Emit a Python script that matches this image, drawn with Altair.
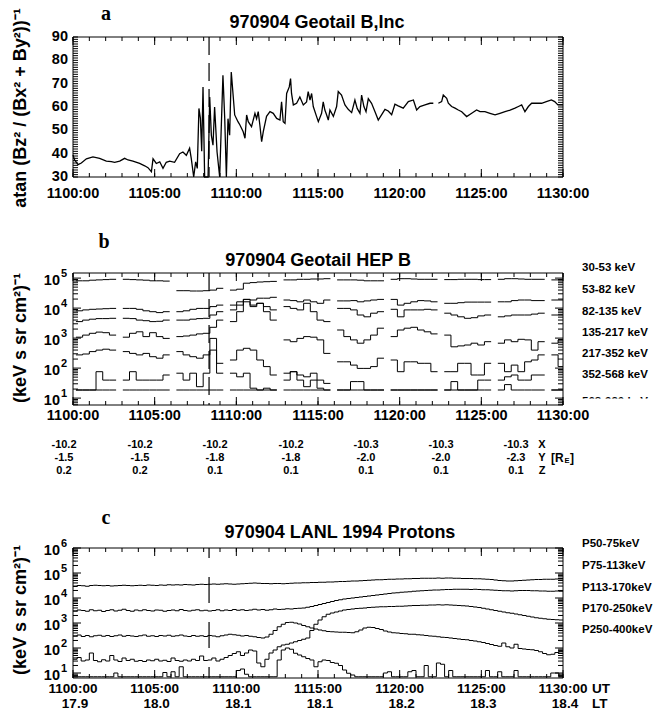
import altair as alt
import pandas as pd

FONT = "Liberation Sans, Arial, Helvetica, sans-serif"
SERIF = "Liberation Serif, Times New Roman, serif"
NARROW = "Liberation Sans Narrow, Liberation Sans, sans-serif"

# ---------------- shared time axis ----------------
tick_minutes = [0, 5, 10, 15, 20, 25, 30]
ut_labels = ["1100:00", "1105:00", "1110:00", "1115:00", "1120:00", "1125:00", "1130:00"]
lt_labels = ["17.9", "18.0", "18.1", "18.1", "18.2", "18.3", "18.4"]
orbit_x = ["-10.2", "-10.2", "-10.2", "-10.2", "-10.3", "-10.3", "-10.3"]
orbit_y = ["-1.5", "-1.5", "-1.8", "-1.8", "-2.0", "-2.0", "-2.3"]
orbit_z = ["0.2", "0.2", "0.1", "0.1", "0.1", "0.1", "0.1"]
event_minute = [8.33]

# ---------------- panel a : Geotail B inclination ----------------
a_minutes = [
    0.00, 0.10, 0.31, 0.51, 0.82, 1.22, 1.63, 2.04, 2.35, 2.55,
    2.86, 3.16, 3.37, 3.67, 4.08, 4.39, 4.59, 4.80, 4.90, 5.10,
    5.31, 5.51, 5.71, 5.92, 6.22, 6.53, 6.73, 6.94, 7.14, 7.24,
    7.39, 7.51, 7.61, 7.71, 7.80, 7.88, 7.96, 8.06, 8.27, 8.37,
    8.47, 8.57, 8.67, 8.82, 8.98, 9.18, 9.29, 9.39, 9.49, 9.59,
    9.69, 9.90, 10.10, 10.22, 10.42, 10.53, 10.63, 10.73, 10.93, 11.14,
    11.24, 11.34, 11.44, 11.55, 11.65, 11.85, 12.06, 12.26, 12.47, 12.67,
    12.77, 12.87, 12.98, 13.08, 13.24, 13.32, 13.38, 13.49, 13.69, 13.89,
    14.10, 14.30, 14.40, 14.51, 14.61, 14.71, 14.91, 15.02, 15.22, 15.32,
    15.42, 15.53, 15.63, 15.73, 15.94, 16.14, 16.24, 16.44, 16.65, 16.85,
    17.06, 17.26, 17.40, 17.57, 17.67, 17.81, 17.94, 18.08, 18.28, 18.49,
    18.69, 18.89, 19.10, 19.30, 19.51, 19.71, 19.91, 20.22, 20.53, 20.84,
    21.04, 21.24, 21.55, 21.86, 22.06, 22.20, 22.37, 22.57, 22.67, 22.88,
    22.98, 23.18, 23.39, 23.59, 23.80, 24.10, 24.41, 24.71, 24.92, 25.22,
    25.53, 25.84, 26.14, 26.45, 26.76, 27.06, 27.27, 27.47, 27.67, 27.88,
    28.08, 28.39, 28.69, 28.98, 29.29, 29.49, 29.69, 30.00]
a_angle = [
    39.4, 37.3, 35.3, 36.0, 37.8, 38.6, 38.0, 36.8, 36.6, 36.3,
    36.8, 38.0, 37.3, 36.8, 35.8, 34.8, 34.0, 32.3, 37.8, 35.8,
    36.5, 33.7, 36.3, 36.8, 36.3, 40.0, 40.7, 39.3, 42.3, 38.0,
    25.0, 36.5, 33.7, 59.4, 55.1, 41.0, 68.6, 25.0, 25.0, 64.3,
    47.9, 43.6, 60.0, 40.7, 25.0, 73.6, 55.0, 25.0, 55.0, 47.9,
    75.0, 56.6, 53.7, 52.3, 49.4, 46.6, 56.6, 53.7, 51.6, 57.3,
    55.0, 58.0, 52.3, 45.1, 49.4, 56.0, 58.0, 57.3, 55.1, 54.4,
    62.2, 53.7, 53.0, 65.8, 68.6, 72.2, 65.8, 60.9, 61.6, 64.3,
    60.9, 62.2, 66.6, 63.0, 65.8, 60.2, 56.0, 53.7, 57.3, 62.2,
    58.7, 56.6, 54.4, 58.7, 56.0, 60.2, 66.6, 65.1, 60.9, 59.0,
    57.6, 63.0, 59.4, 57.3, 65.1, 60.2, 58.0, 63.6, 61.6, 58.0,
    54.4, 56.6, 59.0, 58.3, 56.7, 61.2, 60.5, 59.5, 62.3, 63.0,
    58.7, 60.2, 60.9, 61.6, 61.6, None, 61.6, 62.3, 65.1, 63.7,
    61.6, 60.2, 59.5, 58.7, 58.0, 55.9, 57.3, 58.7, 58.0, 58.0,
    57.3, 56.6, 57.3, 58.0, 58.7, 59.5, 60.2, 60.9, 58.0, 60.2,
    61.6, 61.6, 61.6, 62.3, 63.0, 62.3, 60.9, 60.9]
a_tick_labels = [30, 40, 50, 60, 70, 80, 90]

# ---------------- panel b : Geotail HEP (log10 flux, None = gap) ----------------
hep_names = ["30-53 keV", "53-82 keV", "82-135 keV", "135-217 keV", "217-352 keV", "352-568 keV"]
hep_hidden_name = "568-920 keV"
hep_bin_start = 0.18
hep_bin_width = 0.41
hep_30_53 = [
    4.91, 4.91, 4.93, 4.94, 4.95, 4.96, None,
    4.96, 4.95, 4.94, 4.93, 4.91, 4.91, 4.90, None,
    4.58, 4.58, 4.57, 4.57, 4.58, 4.60, 4.66, None,
    4.60, 4.63, 4.83, 4.85, 4.87, 4.88, 4.89, None,
    4.94, 4.94, 4.96, 4.96, 4.97, 4.97, 4.98, None,
    4.94, 4.94, 4.94, 4.93, 4.91, 4.91, 4.91, None,
    4.96, 4.98, 4.98, 4.97, 4.96, 4.96, 4.96, None,
    4.95, 4.95, 4.96, 4.96, 4.96, 4.95, 4.95, None,
    4.96, 4.98, 4.98, 4.97, 4.96, 4.96, 4.96, None,
    4.94, 4.94]
hep_53_82 = [
    3.91, 3.94, 3.96, 3.97, 3.98, 3.99, None,
    3.99, 3.99, 3.96, 3.91, 3.88, 3.85, 3.88, None,
    3.88, 3.91, 3.96, 3.99, 3.99, 4.05, 4.10, None,
    4.10, 4.21, 4.29, 4.27, 4.33, 4.33, 4.36, None,
    4.27, 4.25, 4.21, 4.27, 4.21, 4.16, 4.27, None,
    4.24, 4.24, 4.25, 4.21, 4.24, 4.27, 4.29, None,
    4.29, 4.10, 4.16, 4.21, 4.25, 4.24, 4.21, None,
    4.16, 4.16, 4.18, 4.20, 4.20, 4.20, 4.20, None,
    4.21, 4.21, 4.25, 4.27, 4.27, 4.25, 4.25, None,
    4.27, 4.27]
hep_82_135 = [
    3.55, 3.60, 3.63, 3.65, 3.65, 3.66, None,
    3.66, 3.65, 3.60, 3.58, 3.55, 3.56, 3.60, None,
    3.60, 3.60, 3.63, 3.65, 3.66, 3.77, 3.88, None,
    3.94, 4.10, 4.21, 4.10, 4.16, 4.05, 3.94, None,
    4.05, 3.99, 3.94, 4.16, 3.88, 3.60, 3.55, None,
    3.99, 3.99, 3.94, 3.77, 3.71, 3.83, 3.88, None,
    3.96, 3.71, 3.94, 3.94, 3.94, 3.96, 3.94, None,
    3.83, 3.77, 3.71, 3.66, 3.68, 3.74, 3.77, None,
    3.71, 3.74, 3.77, 3.77, 3.77, 3.80, 3.83, None,
    3.77, 3.77]
hep_135_217 = [
    3.03, 3.10, 3.16, 3.20, 3.18, 3.10, None,
    3.03, 3.16, 3.21, 3.05, 3.18, 3.05, 2.99, None,
    3.05, 3.07, 3.10, 3.14, 3.16, 3.36, 3.60, None,
    3.55, 3.88, 4.29, 4.05, 4.16, 3.88, 3.60, None,
    2.94, 2.88, 2.99, 3.05, 3.03, 2.94, 2.49, None,
    3.27, 3.05, 2.94, 2.83, 2.94, 3.10, 3.33, None,
    3.05, 3.27, 3.33, 3.36, 3.27, 3.21, 3.14, None,
    3.10, 2.71, 2.74, 2.77, 2.83, 2.77, 2.88, None,
    2.83, 2.94, 2.88, 2.96, 2.94, 2.60, 2.88, None,
    2.83, 2.94]
hep_217_352 = [
    2.44, 2.47, 2.55, 2.60, 2.63, 2.60, None,
    2.55, 2.49, 2.44, 2.49, 2.38, 2.33, 2.44, None,
    2.55, 2.44, 2.38, 2.33, 2.44, 2.99, 2.16, None,
    2.27, 2.60, 2.66, 2.60, 2.27, 2.05, 1.77, None,
    1.83, 1.88, 1.77, 1.71, 1.83, 1.60, 1.49, None,
    2.21, 2.21, 2.10, 1.99, 1.99, 2.05, 2.33, None,
    2.27, 1.88, 2.21, 2.21, 2.16, 2.16, 1.88, None,
    1.88, 1.88, 2.16, 2.16, 1.77, 1.77, 2.16, None,
    2.16, 1.88, 2.10, 1.88, 2.21, 2.27, 2.44, None,
    2.44, 2.05]
hep_352_568 = [
    1.27, 1.27, 1.27, 1.88, 1.60, 1.60, None,
    1.60, 1.88, 1.60, 1.60, 1.60, 1.60, 1.77, None,
    1.83, 1.60, 1.83, 1.38, 1.83, 2.60, 1.83, None,
    1.83, 1.71, 1.83, 1.33, 1.27, 1.33, 1.27, None,
    1.60, 1.88, 1.60, 1.38, 1.60, 1.33, 1.27, None,
    1.27, 1.27, 1.55, 1.55, 1.27, 1.27, 1.27, None,
    1.27, 1.27, 1.27, 1.27, 1.27, 1.27, 1.27, None,
    1.27, 1.55, 1.27, 1.27, 1.27, 1.60, 1.60, None,
    1.60, 1.71, 1.77, 1.60, 1.60, 1.77, 1.77, None,
    1.27, 1.27]
hep_568_920 = [
    1.27, 1.27, 1.27, 1.27, 1.27, 1.27, None,
    1.27, 1.27, 1.27, 1.27, 1.27, 1.27, 1.27, None,
    1.27, 1.27, 1.27, 1.27, 1.27, 1.27, 1.27, None,
    1.27, 1.27, 1.27, 1.27, 1.27, 1.27, 1.27, None,
    1.27, 1.27, 1.27, 1.27, 1.27, 1.27, 1.27, None,
    1.27, 1.27, 1.27, 1.27, 1.27, 1.27, 1.27, None,
    1.27, 1.27, 1.27, 1.27, 1.27, 1.27, 1.27, None,
    1.27, 1.27, 1.27, 1.27, 1.27, 1.27, 1.27, None,
    1.27, 1.45, 1.27, 1.27, 1.27, 1.27, 1.27, None,
    1.27, 1.27]
b_decades = [1, 2, 3, 4, 5]

# ---------------- panel c : LANL 1994 protons (log10 flux, 15 s bins) ----------------
lanl_names = ["P50-75keV", "P75-113keV", "P113-170keV", "P170-250keV", "P250-400keV"]
lanl_bin_width = 0.25
lanl_p50_75 = [
    4.46, 4.50, 4.49, 4.47, 4.50, 4.51, 4.50, 4.49, 4.50, 4.48, 4.49, 4.50, 4.51, 4.50, 4.49, 4.50,
    4.51, 4.50, 4.52, 4.51, 4.50, 4.52, 4.51, 4.53, 4.52, 4.53, 4.52, 4.54, 4.53, 4.52, 4.54, 4.55,
    4.54, 4.55, 4.56, 4.55, 4.56, 4.57, 4.56, 4.55, 4.56, 4.57, 4.58, 4.59, 4.60, 4.59, 4.58, 4.58,
    4.57, 4.58, 4.58, 4.57, 4.58, 4.59, 4.60, 4.60, 4.61, 4.61, 4.62, 4.62, 4.63, 4.63, 4.64, 4.64,
    4.65, 4.66, 4.66, 4.67, 4.68, 4.68, 4.69, 4.70, 4.71, 4.72, 4.73, 4.73, 4.74, 4.75, 4.75, 4.76,
    4.76, 4.77, 4.77, 4.78, 4.78, 4.79, 4.79, 4.79, 4.79, 4.80, 4.79, 4.80, 4.80, 4.79, 4.79, 4.78,
    4.78, 4.78, 4.77, 4.77, 4.76, 4.75, 4.74, 4.72, 4.70, 4.69, 4.68, 4.68, 4.69, 4.70, 4.71, 4.72,
    4.73, 4.74, 4.74, 4.75, 4.75, 4.75, 4.76, 4.76]
lanl_p75_113 = [
    3.48, 3.52, 3.50, 3.47, 3.53, 3.49, 3.51, 3.46, 3.50, 3.53, 3.48, 3.51, 3.55, 3.50, 3.47, 3.52,
    3.49, 3.53, 3.50, 3.48, 3.52, 3.51, 3.47, 3.50, 3.52, 3.49, 3.54, 3.50, 3.48, 3.51, 3.53, 3.49,
    3.51, 3.48, 3.50, 3.53, 3.49, 3.52, 3.50, 3.54, 3.51, 3.53, 3.50, 3.52, 3.55, 3.52, 3.54, 3.51,
    3.53, 3.56, 3.54, 3.55, 3.57, 3.56, 3.58, 3.59, 3.60, 3.63, 3.66, 3.70, 3.74, 3.78, 3.82, 3.86,
    3.90, 3.93, 3.96, 3.98, 4.00, 4.02, 4.04, 4.06, 4.08, 4.10, 4.12, 4.14, 4.16, 4.18, 4.20, 4.21,
    4.23, 4.24, 4.25, 4.27, 4.28, 4.29, 4.30, 4.31, 4.32, 4.32, 4.33, 4.34, 4.34, 4.35, 4.35, 4.35,
    4.35, 4.34, 4.35, 4.34, 4.33, 4.33, 4.32, 4.31, 4.30, 4.29, 4.29, 4.28, 4.29, 4.30, 4.30, 4.30,
    4.29, 4.29, 4.28, 4.28, 4.27, 4.27, 4.28, 4.27]
lanl_p113_170 = [
    2.48, 2.52, 2.46, 2.50, 2.45, 2.49, 2.51, 2.47, 2.50, 2.46, 2.49, 2.52, 2.47, 2.50, 2.48, 2.46,
    2.49, 2.52, 2.47, 2.49, 2.46, 2.50, 2.48, 2.51, 2.47, 2.49, 2.52, 2.48, 2.46, 2.50, 2.47, 2.49,
    2.46, 2.50, 2.48, 2.45, 2.49, 2.52, 2.55, 2.53, 2.51, 2.48, 2.50, 2.47, 2.45, 2.42, 2.40, 2.44,
    2.55, 2.70, 2.85, 2.95, 3.02, 3.03, 3.00, 2.96, 2.90, 2.85, 2.80, 2.76, 2.72, 2.69, 2.66, 2.65,
    2.64, 2.63, 2.63, 2.62, 2.61, 2.65, 2.72, 2.80, 2.83, 2.82, 2.78, 2.74, 2.68, 2.64, 2.61, 2.60,
    2.58, 2.57, 2.55, 2.55, 2.53, 2.52, 2.50, 2.48, 2.47, 2.45, 2.43, 2.42, 2.40, 2.38, 2.36, 2.34,
    2.33, 2.30, 2.28, 2.25, 2.22, 2.18, 2.14, 2.10, 2.07, 2.20, 2.05, 2.00, 2.15, 1.98, 1.96, 1.94,
    1.93, 1.90, 1.85, 1.78, 1.73, 1.75, 1.82, 1.87]
lanl_p170_250 = [
    1.55, 1.62, 1.48, 1.52, 1.80, 1.50, 1.45, 1.53, 1.48, 1.70, 1.52, 1.46, 1.60, 1.50, 1.55, 1.47,
    1.50, 1.46, 1.52, 1.49, 1.55, 1.48, 1.51, 1.46, 1.60, 1.50, 1.47, 1.52, 1.48, 1.55, 1.50, 1.68,
    1.50, 1.52, 1.60, 1.48, 1.55, 1.62, 1.70, 1.78, 1.85, 1.70, 1.80, 1.92, 1.88, 1.40, 1.25, 1.55,
    1.80, 1.92, 2.05, 2.12, 2.15, 2.20, 2.25, 2.30, 2.35, 2.40, 2.70, 2.95, 3.12, 3.25, 3.35, 3.40,
    3.44, 3.48, 3.52, 3.54, 3.56, 3.58, 3.59, 3.60, 3.62, 3.63, 3.64, 3.65, 3.65, 3.66, 3.66, 3.67,
    3.67, 3.68, 3.69, 3.70, 3.70, 3.71, 3.71, 3.72, 3.72, 3.73, 3.72, 3.73, 3.72, 3.71, 3.70, 3.69,
    3.68, 3.66, 3.64, 3.62, 3.59, 3.56, 3.53, 3.50, 3.47, 3.44, 3.41, 3.39, 3.36, 3.33, 3.30, 3.27,
    3.24, 3.21, 3.19, 3.17, 3.15, 3.14, 3.13, 3.12]
lanl_p250_400 = [
    0.85, 0.85, 0.85, 0.85, 0.85, 0.85, 0.85, 0.85, 0.85, 0.85, 1.00, 0.85, 0.85, 0.85, 0.85, 0.85,
    0.85, 0.85, 0.85, 0.85, 0.85, 0.85, 1.02, 0.85, 1.05, 0.85, 1.25, 0.85, 0.85, 0.85, 0.85, 0.85,
    0.85, 0.85, 0.85, 0.85, 0.85, 0.85, 0.85, 0.85, 1.10, 1.16, 0.95, 0.85, 0.85, 0.85, 0.85, 0.85,
    0.85, 0.85, 1.52, 1.92, 2.00, 1.95, 1.79, 1.72, 1.65, 1.58, 1.52, 1.25, 1.45, 1.52, 1.50, 1.42,
    1.39, 1.30, 1.12, 0.99, 0.92, 0.85, 0.85, 0.85, 0.85, 0.85, 0.85, 0.85, 1.00, 1.05, 0.85, 0.85,
    0.85, 0.85, 1.05, 1.10, 0.85, 0.85, 1.30, 0.85, 0.85, 1.40, 1.35, 0.85, 1.10, 0.85, 0.85, 0.85,
    0.85, 0.85, 0.85, 0.85, 0.85, 1.10, 0.85, 0.85, 1.05, 0.85, 0.85, 0.85, 1.10, 0.85, 0.85, 0.85,
    0.85, 0.85, 0.85, 0.85, 0.85, 1.00, 1.00, 0.85]
c_decades = [1, 2, 3, 4, 5, 6]

# ---------------- layout (pixels) ----------------
X0, X1 = 73, 563
A_TOP, A_BOT = 37, 177
B_TOP, B_BOT = 273, 405
C_TOP, C_BOT = 548, 678
b_label_y = [268, 290, 312, 333, 354, 375]
c_label_y = [544, 566, 588, 609, 630]
orbit_col_x = [64, 140, 215, 291, 366, 441, 516]
orbit_row_y = [445, 458, 471]

XS = alt.Scale(domain=[0, 30], range=[X0, X1], clamp=True, nice=False, zero=False)
YA = alt.Scale(domain=[30, 90], range=[A_BOT, A_TOP], clamp=True, nice=False, zero=False)
YB = alt.Scale(type="log", domain=[10 ** 0.77, 10 ** 5.17], range=[B_BOT, B_TOP], clamp=True, nice=False)
YC = alt.Scale(type="log", domain=[10 ** 0.8, 10 ** 6], range=[C_BOT, C_TOP], clamp=True, nice=False)

ONE = pd.DataFrame({"k": [0]})


def xf():
    return alt.X("t:Q", scale=XS, axis=None)


def yf(field, sc):
    return alt.Y(f"{field}:Q", scale=sc, axis=None)


def step_rows(name, logs, start, width):
    rows, seg = [], 0
    for i, v in enumerate(logs):
        if v is None:
            seg += 1
            continue
        t = start + i * width
        rows.append({"t": t, "flux": 10 ** v, "key": f"{name}|{seg}"})
        nxt = logs[i + 1] if i + 1 < len(logs) else None
        if nxt is None:
            rows.append({"t": t + width, "flux": 10 ** v, "key": f"{name}|{seg}"})
    return rows


def txt(text, x, y, size=14.5, font=FONT, weight="bold", align="center", angle=0, baseline="middle"):
    props = dict(text=text, font=font, fontSize=size, fontWeight=weight, align=align,
                 baseline=baseline, color="black")
    if angle:
        props["angle"] = angle
    return alt.Chart(ONE).mark_text(**props).encode(x=alt.value(x), y=alt.value(y))


def frame_layers(top, bot):
    out = [alt.Chart(ONE).mark_rect(fillOpacity=0, stroke="black", strokeWidth=1).encode(
        x=alt.value(X0), x2=alt.value(X1), y=alt.value(top), y2=alt.value(bot))]
    minor = pd.DataFrame({"t": list(range(31))})
    major = pd.DataFrame({"t": tick_minutes})
    for df, ln in ((minor, 4), (major, 8)):
        out.append(alt.Chart(df).mark_rule(color="black", strokeWidth=1).encode(
            x=xf(), y=alt.value(top), y2=alt.value(top + ln)))
        out.append(alt.Chart(df).mark_rule(color="black", strokeWidth=1).encode(
            x=xf(), y=alt.value(bot - ln), y2=alt.value(bot)))
    return out


def yticks(values, sc, ln):
    df = pd.DataFrame({"v": values})
    return [
        alt.Chart(df).mark_rule(color="black", strokeWidth=1).encode(
            y=yf("v", sc), x=alt.value(X0), x2=alt.value(X0 + ln)),
        alt.Chart(df).mark_rule(color="black", strokeWidth=1).encode(
            y=yf("v", sc), x=alt.value(X1 - ln), x2=alt.value(X1)),
    ]


def xlabels(labels, y, dx=0, size=14.5):
    df = pd.DataFrame({"t": tick_minutes, "lab": labels})
    return alt.Chart(df).mark_text(font=FONT, fontSize=size, fontWeight="bold", baseline="middle",
                                   align="center", dx=dx, color="black").encode(
        x=xf(), y=alt.value(y), text="lab:N")


def event_line(top, bot, dash, offset=0):
    return alt.Chart(pd.DataFrame({"t": event_minute})).mark_rule(
        color="black", strokeWidth=1.2, strokeDash=dash, strokeDashOffset=offset).encode(
        x=xf(), y=alt.value(top), y2=alt.value(bot))


def log_labels(decades, sc):
    df = pd.DataFrame({"v": [10.0 ** d for d in decades], "e": [str(d) for d in decades]})
    base = alt.Chart(df).mark_text(text="10", font=FONT, fontSize=14.5, fontWeight="bold",
                                   align="right", baseline="middle", dy=3, color="black").encode(
        x=alt.value(60), y=yf("v", sc))
    expo = alt.Chart(df).mark_text(font=FONT, fontSize=11, fontWeight="bold", align="left",
                                   baseline="middle", dy=-4, color="black").encode(
        x=alt.value(61), y=yf("v", sc), text="e:N")
    return [base, expo]


def log_minor(decades, lo, hi):
    vals = []
    for d in range(decades[0] - 1, decades[-1] + 1):
        for m in range(2, 10):
            v = m * 10.0 ** d
            if lo < v < hi:
                vals.append(v)
    return vals


def side_labels(names, ys):
    return alt.Chart(pd.DataFrame({"lab": names, "y": ys})).mark_text(
        font=FONT, fontSize=11.5, fontWeight="bold", align="left", baseline="middle",
        color="black").encode(x=alt.value(582), y=alt.Y("y:Q", scale=None, axis=None), text="lab:N")


layers = []

# ======== panel a ========
rows, seg = [], 0
for t, v in zip(a_minutes, a_angle):
    if v is None:
        seg += 1
        continue
    rows.append({"t": t, "v": v, "key": f"a{seg}"})
df_a = pd.DataFrame(rows)

layers += frame_layers(A_TOP, A_BOT)
layers += yticks(list(range(30, 91)), YA, 5)
layers.append(event_line(A_TOP, A_BOT, [18, 8]))
layers.append(alt.Chart(df_a).mark_line(color="black", strokeWidth=1.3).encode(
    x=xf(), y=yf("v", YA), detail="key:N"))
layers.append(alt.Chart(pd.DataFrame({"v": a_tick_labels, "lab": [str(v) for v in a_tick_labels]}))
              .mark_text(font=FONT, fontSize=14.5, fontWeight="bold", align="right", baseline="middle",
                         color="black")
              .encode(x=alt.value(68), y=yf("v", YA), text="lab:N"))
layers.append(xlabels(ut_labels, 194))
layers.append(txt("a", 106, 14, size=20, font=SERIF))
layers.append(txt("970904 Geotail B,Inc", 317, 23, size=18))
layers.append(txt("atan (Bz² / (Bx² + By²))⁻¹", 21, 108, size=18, angle=270))

# ======== panel b ========
hep_series = [hep_30_53, hep_53_82, hep_82_135, hep_135_217, hep_217_352, hep_352_568, hep_568_920]
b_rows = []
for k, s in enumerate(hep_series):
    b_rows += step_rows(f"h{k}", s, hep_bin_start, hep_bin_width)
df_b = pd.DataFrame(b_rows)
b_lo, b_hi = 10 ** 0.77, 10 ** 5.17

layers += frame_layers(B_TOP, B_BOT)
layers += yticks([10.0 ** d for d in b_decades], YB, 8)
layers += yticks(log_minor(b_decades, b_lo, b_hi), YB, 5)
layers.append(event_line(B_TOP, B_BOT, [18, 8]))
layers.append(alt.Chart(df_b).mark_line(color="black", strokeWidth=1, interpolate="step-after").encode(
    x=xf(), y=yf("flux", YB), detail="key:N"))
layers += log_labels(b_decades, YB)
layers.append(txt("b", 104, 242, size=20, font=SERIF))
layers.append(txt("970904 Geotail HEP B", 318, 261, size=18))
layers.append(txt("(keV s sr cm²)⁻¹", 21, 338, size=18, angle=270))
layers.append(side_labels(hep_names, b_label_y))
# seventh channel label, mostly hidden below the sixth as in the original
layers.append(side_labels([hep_hidden_name], [402]))
layers.append(alt.Chart(ONE).mark_rect(color="white").encode(
    x=alt.value(579), x2=alt.value(660), y=alt.value(398.5), y2=alt.value(409.5)))
layers.append(xlabels(ut_labels, 416))

# orbit position block
for rowy, vals in zip(orbit_row_y, (orbit_x, orbit_y, orbit_z)):
    layers.append(alt.Chart(pd.DataFrame({"px": orbit_col_x, "lab": vals})).mark_text(
        font=NARROW, fontSize=11, fontWeight="bold", align="center", baseline="middle", color="black").encode(
        x=alt.X("px:Q", scale=None, axis=None), y=alt.value(rowy), text="lab:N"))
for rowy, letter in zip(orbit_row_y, ["X", "Y", "Z"]):
    layers.append(txt(letter, 542, rowy, size=11, font=NARROW))
layers.append(txt("[R", 551, 458, size=12, font=NARROW, align="left"))
layers.append(txt("E", 564.5, 461, size=7.5, font=NARROW, align="left"))
layers.append(txt("]", 570, 458, size=12, font=NARROW, align="left"))

# ======== panel c ========
lanl_series = [lanl_p50_75, lanl_p75_113, lanl_p113_170, lanl_p170_250, lanl_p250_400]
c_rows = []
for k, s in enumerate(lanl_series):
    c_rows += step_rows(f"l{k}", s, 0.0, lanl_bin_width)
df_c = pd.DataFrame(c_rows)
c_lo, c_hi = 10 ** 0.8, 10 ** 6

layers += frame_layers(C_TOP, C_BOT)
layers += yticks([10.0 ** d for d in c_decades], YC, 8)
layers += yticks(log_minor(c_decades, c_lo, c_hi), YC, 5)
layers.append(event_line(C_TOP, C_BOT, [26, 19], 16))
layers.append(alt.Chart(df_c).mark_line(color="black", strokeWidth=1, interpolate="step-after").encode(
    x=xf(), y=yf("flux", YC), detail="key:N"))
layers += log_labels(c_decades, YC)
layers.append(xlabels(ut_labels, 689, size=13.5))
layers.append(xlabels(lt_labels, 704, dx=2, size=13.5))
layers.append(txt("UT", 592, 689, size=13.5, align="left"))
layers.append(txt("LT", 592, 704, size=13.5, align="left"))
layers.append(txt("c", 106, 518, size=20, font=SERIF))
layers.append(txt("970904 LANL 1994 Protons", 340, 533, size=18))
layers.append(txt("(keV s sr cm²)⁻¹", 21, 610, size=18, angle=270))
layers.append(side_labels(lanl_names, c_label_y))

chart = (alt.layer(*layers)
         .resolve_scale(y="independent")
         .properties(width=670, height=715, autosize=alt.AutoSizeParams(type="none"), padding=0,
                     background="white")
         .configure_view(stroke=None))

chart.save("out.html", embed_options={"renderer": "svg", "actions": False})
